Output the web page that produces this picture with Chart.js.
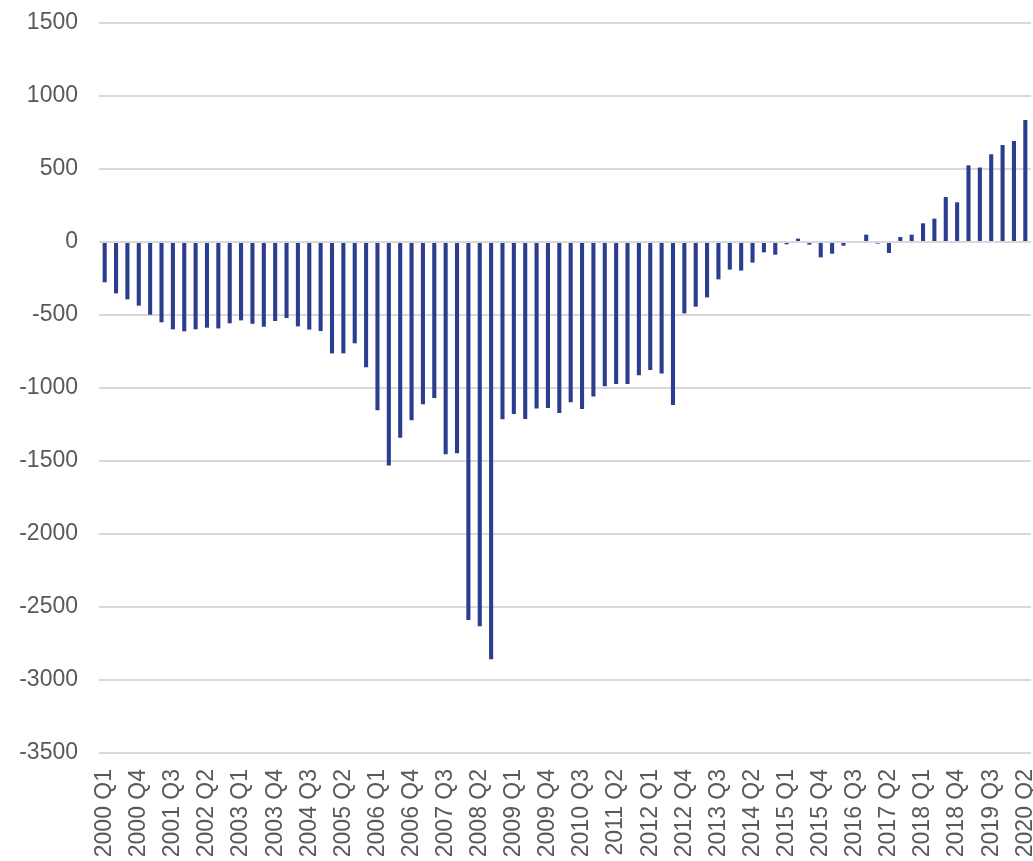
<!DOCTYPE html>
<html>
<head>
<meta charset="utf-8">
<script src="https://cdn.jsdelivr.net/npm/chart.js@4/dist/chart.umd.min.js"></script>
<style>
  html, body { margin: 0; padding: 0; background: #ffffff; }
  #wrap { width: 1033px; height: 861px; position: relative; }
</style>
</head>
<body>
<div id="wrap"><canvas id="c" width="1033" height="861"></canvas></div>
<script>
const years = [2000,2001,2002,2003,2004,2005,2006,2007,2008,2009,2010,2011,2012,2013,2014,2015,2016,2017,2018,2019,2020];
const quarters = ["Q1","Q2","Q3","Q4"];
const categories = [];
years.forEach(y => quarters.forEach(q => { if (!(y === 2020 && (q === "Q3" || q === "Q4"))) categories.push(y + " " + q); }));

const values = [
  -276, -352, -393, -436, -498, -550, -598, -612, -598, -587,
  -592, -557, -537, -560, -580, -541, -521, -578, -600, -610,
  -763, -763, -694, -858, -1153, -1530, -1340, -1221, -1112, -1068,
  -1454, -1447, -2589, -2632, -2858, -1214, -1178, -1213, -1141, -1137,
  -1171, -1098, -1144, -1059, -988, -973, -973, -913, -877, -900,
  -1116, -489, -443, -379, -256, -189, -196, -141, -71, -87,
  -16, 23, -18, -105, -80, -25, 0, 50, -11, -75,
  34, 50, 128, 160, 308, 272, 525, 510, 601, 664,
  692, 836
];

const yTicks = [1500, 1000, 500, 0, -500, -1000, -1500, -2000, -2500, -3000, -3500];
const labelEvery = 3;

new Chart(document.getElementById('c'), {
  type: 'bar',
  data: {
    labels: categories,
    datasets: [{
      data: values,
      backgroundColor: '#2b3d8f',
      borderWidth: 0,
      barPercentage: 0.36,
      categoryPercentage: 1.0
    }]
  },
  options: {
    responsive: false,
    animation: false,
    devicePixelRatio: 1,
    layout: { padding: { top: 23, right: 2, left: 0, bottom: 0 } },
    plugins: { legend: { display: false }, tooltip: { enabled: false } },
    scales: {
      x: {
        grid: { display: false, drawTicks: false },
        border: { display: false },
        ticks: {
          autoSkip: false,
          maxRotation: 90,
          minRotation: 90,
          padding: 16,
          color: '#595959',
          font: { family: "'Liberation Sans', Arial, sans-serif", size: 23 },
          callback: function(v, i) { return i % labelEvery === 0 ? categories[i] : ''; }
        },
        afterFit: function(s) { s.height = 108; s.paddingLeft = 0; s.paddingRight = 0; }
      },
      y: {
        min: -3500,
        max: 1500,
        afterBuildTicks: function(s) { s.ticks = yTicks.map(v => ({ value: v })); },
        grid: { color: '#d9d9d9', lineWidth: 2, drawTicks: false },
        border: { display: false },
        ticks: {
          padding: 21,
          color: '#595959',
          font: { family: "'Liberation Sans', Arial, sans-serif", size: 23 },
          callback: function(v) { return String(v); }
        },
        afterFit: function(s) { s.width = 99; s.paddingTop = 0; s.paddingBottom = 0; }
      }
    }
  }
});
</script>
</body>
</html>
